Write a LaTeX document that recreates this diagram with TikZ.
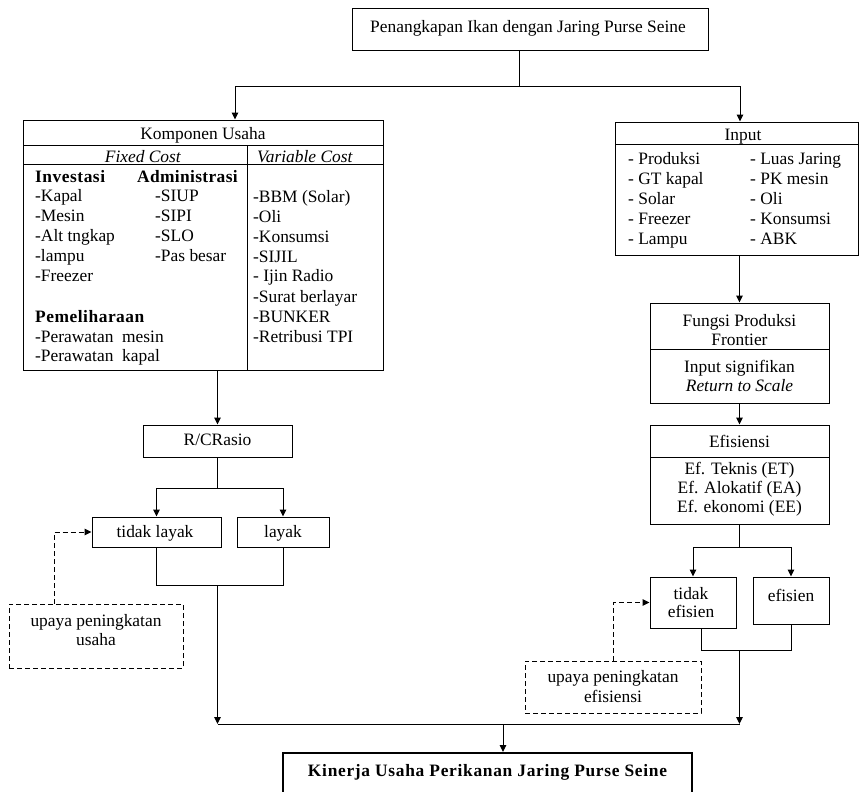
\documentclass[tikz,border=0pt]{standalone}
\usepackage{fontspec}
\setmainfont{Liberation Serif}
\usetikzlibrary{arrows.meta}
\newcommand{\bsp}[2][5]{{\addfontfeatures{LetterSpace=#1}\bfseries #2}}
\begin{document}
\begin{tikzpicture}[x=1pt,y=-1pt,
  font=\fontsize{17.4}{19.5}\selectfont,
  box/.style={draw, line width=1pt, inner sep=0pt},
  txt/.style={inner sep=0pt, text height=12pt, text depth=4pt},
  lt/.style={txt, anchor=west},
  conn/.style={line width=1pt},
  arr/.style={conn, -{Triangle[length=7pt,width=6.5pt]}},
  dashconn/.style={line width=1pt, dash pattern=on 5pt off 3pt},
  divline/.style={line width=1pt}
]
\useasboundingbox (0,0) rectangle (859,792);
\fill[white] (0,0) rectangle (859,792);

% ---------- top ----------
\node[box, minimum width=356pt, minimum height=42pt] (top) at (530,30) {};
\node[txt] (topt) at (528,29) {Penangkapan Ikan dengan Jaring Purse Seine};

% ---------- Komponen Usaha ----------
\node[box, minimum width=360pt, minimum height=250pt] (komp) at (203,245) {};
\draw[divline] (23,145) -- (383,145);
\draw[divline] (23,164) -- (383,164);
\draw[divline] (247,145) -- (247,370);
\node[txt] (kt) at (203,135) {Komponen Usaha};
\node[txt] (fc) at (143,158) {\textit{Fixed Cost}};
\node[txt] (vc) at (305,158) {\textit{Variable Cost}};
\node[lt] (inv) at (35,178) {\bsp[3]{Investasi}};
\node[lt] (adm) at (137,178) {\bsp[2]{Administrasi}};
\node[lt] (k1) at (35,197) {-Kapal};
\node[lt] (k2) at (35,217) {-Mesin};
\node[lt] (k3) at (35,237) {-Alt tngkap};
\node[lt] (k4) at (35,257) {-lampu};
\node[lt] (k5) at (35,277) {-Freezer};
\node[lt] (a1) at (155,197) {-SIUP};
\node[lt] (a2) at (155,217) {-SIPI};
\node[lt] (a3) at (155,237) {-SLO};
\node[lt] (a4) at (155,257) {-Pas besar};
\node[lt] (pem) at (35,318) {\bsp[3]{Pemeliharaan}};
\node[lt] (p1) at (35,338) {-Perawatan\ \ mesin};
\node[lt] (p2) at (35,357) {-Perawatan\ \ kapal};
\node[lt] (v1) at (253,198) {-BBM (Solar)};
\node[lt] (v2) at (253,218) {-Oli};
\node[lt] (v3) at (253,238) {-Konsumsi};
\node[lt] (v4) at (253,258) {-SIJIL};
\node[lt] (v5) at (253,277) {- Ijin Radio};
\node[lt] (v6) at (253,298) {-Surat berlayar};
\node[lt] (v7) at (253,318) {-BUNKER};
\node[lt] (v8) at (253,338) {-Retribusi TPI};

% ---------- Input ----------
\node[box, minimum width=243pt, minimum height=133pt] (inp) at (736.5,188.5) {};
\draw[divline] (615,144) -- (858,144);
\node[txt] (it) at (743,136) {Input};
\node[lt] (i1) at (628,160) {- Produksi};
\node[lt] (i2) at (628,180) {- GT kapal};
\node[lt] (i3) at (628,200) {- Solar};
\node[lt] (i4) at (628,220) {- Freezer};
\node[lt] (i5) at (628,240) {- Lampu};
\node[lt] (j1) at (750,160) {- Luas Jaring};
\node[lt] (j2) at (750,180) {- PK mesin};
\node[lt] (j3) at (750,200) {- Oli};
\node[lt] (j4) at (750,220) {- Konsumsi};
\node[lt] (j5) at (750,240) {- ABK};

% ---------- Fungsi Produksi Frontier ----------
\node[box, minimum width=179pt, minimum height=100pt] (fun) at (739.5,353) {};
\draw[divline] (650,349) -- (829,349);
\node[txt] (f1) at (739.5,322) {Fungsi Produksi};
\node[txt] (f2) at (739.5,341) {Frontier};
\node[txt] (f3) at (739.5,368) {Input signifikan};
\node[txt] (f4) at (739.5,387) {\textit{Return to Scale}};

% ---------- Efisiensi ----------
\node[box, minimum width=179pt, minimum height=99pt] (ef) at (739.5,474.5) {};
\draw[divline] (650,457) -- (829,457);
\node[txt] (e0) at (739.5,443) {Efisiensi};
\node[txt] (e1) at (739.5,470) {Ef. Teknis (ET)};
\node[txt] (e2) at (739.5,489) {Ef. Alokatif (EA)};
\node[txt] (e3) at (739.5,508) {Ef. ekonomi (EE)};

% ---------- tidak efisien / efisien ----------
\node[box, minimum width=86pt, minimum height=51pt] (te) at (693,602.5) {};
\node[txt] (te1) at (691,595) {tidak};
\node[txt] (te2) at (691,613) {efisien};
\node[box, minimum width=76pt, minimum height=47pt] (ee) at (791,600.5) {};
\node[txt] (ee1) at (791,597) {efisien};

\node[box, dashconn, minimum width=176pt, minimum height=52pt] (ue) at (613,687) {};
\node[txt] (ue1) at (613,678) {upaya peningkatan};
\node[txt] (ue2) at (613,698) {efisiensi};

% ---------- R/C ----------
\node[box, minimum width=149pt, minimum height=32pt] (rc) at (217.5,441) {};
\node[txt] (rct) at (217.5,441) {R/CRasio};
\node[box, minimum width=129pt, minimum height=30pt] (tl) at (156.5,532) {};
\node[txt] (tlt) at (155,533) {tidak layak};
\node[box, minimum width=92pt, minimum height=30pt] (ly) at (283,532) {};
\node[txt] (lyt) at (283,533) {layak};

\node[box, dashconn, minimum width=174pt, minimum height=64pt] (uu) at (96,636) {};
\node[txt] (uu1) at (96,622) {upaya peningkatan};
\node[txt] (uu2) at (96,641) {usaha};

% ---------- Kinerja ----------
\node[draw, line width=2pt, inner sep=0pt, minimum width=409pt, minimum height=77pt] (kin) at (487.5,791.5) {};
\node[txt] (kint) at (487.5,772) {\bsp[4]{Kinerja Usaha Perikanan Jaring Purse Seine}};

% ---------- connectors ----------
\coordinate (tj) at (519,86);
\coordinate (tlft) at (235,86);
\coordinate (trgt) at (740,86);
\draw[conn] (top.south -| tj) -- (tj);
\draw[conn] (tlft) -- (trgt);
\draw[arr] (tlft) -- (tlft |- komp.north);
\draw[arr] (trgt) -- (trgt |- inp.north);

\draw[arr] (fun.north |- inp.south) -- (fun.north);
\draw[arr] (fun.south) -- (ef.north);

\coordinate (es) at (739.5,547);
\draw[conn] (ef.south) -- (es);
\draw[conn] (te.north |- es) -- (ee.north |- es);
\draw[arr] (te.north |- es) -- (te.north);
\draw[arr] (ee.north |- es) -- (ee.north);

\coordinate (tej) at (701,650);
\coordinate (bj) at (503,724);
\draw[conn] (tej |- te.south) -- (tej) -- (ee.south |- tej) -- (ee.south);
\draw[arr] (ef.south |- tej) -- (ef.south |- bj);
\draw[dashconn, -{Triangle[length=7pt,width=6.5pt]}] (ue.north) |- (te.west);

\draw[arr] (rc.north |- komp.south) -- (rc.north);
\coordinate (ls) at (217.5,488);
\draw[conn] (rc.south) -- (ls);
\draw[conn] (tl.north |- ls) -- (ly.north |- ls);
\draw[arr] (tl.north |- ls) -- (tl.north);
\draw[arr] (ly.north |- ls) -- (ly.north);

\coordinate (lj) at (217.5,585);
\draw[conn] (tl.south) -- (tl.south |- lj) -- (ly.south |- lj) -- (ly.south);
\draw[arr] (lj) -- (lj |- bj);
\coordinate (ud) at (54,532);
\draw[dashconn, -{Triangle[length=7pt,width=6.5pt]}] (ud |- uu.north) -- (ud) -- (tl.west);

\draw[conn] (lj |- bj) -- (ef.south |- bj);
\draw[arr] (bj) -- (bj |- kin.north);
\end{tikzpicture}
\end{document}
